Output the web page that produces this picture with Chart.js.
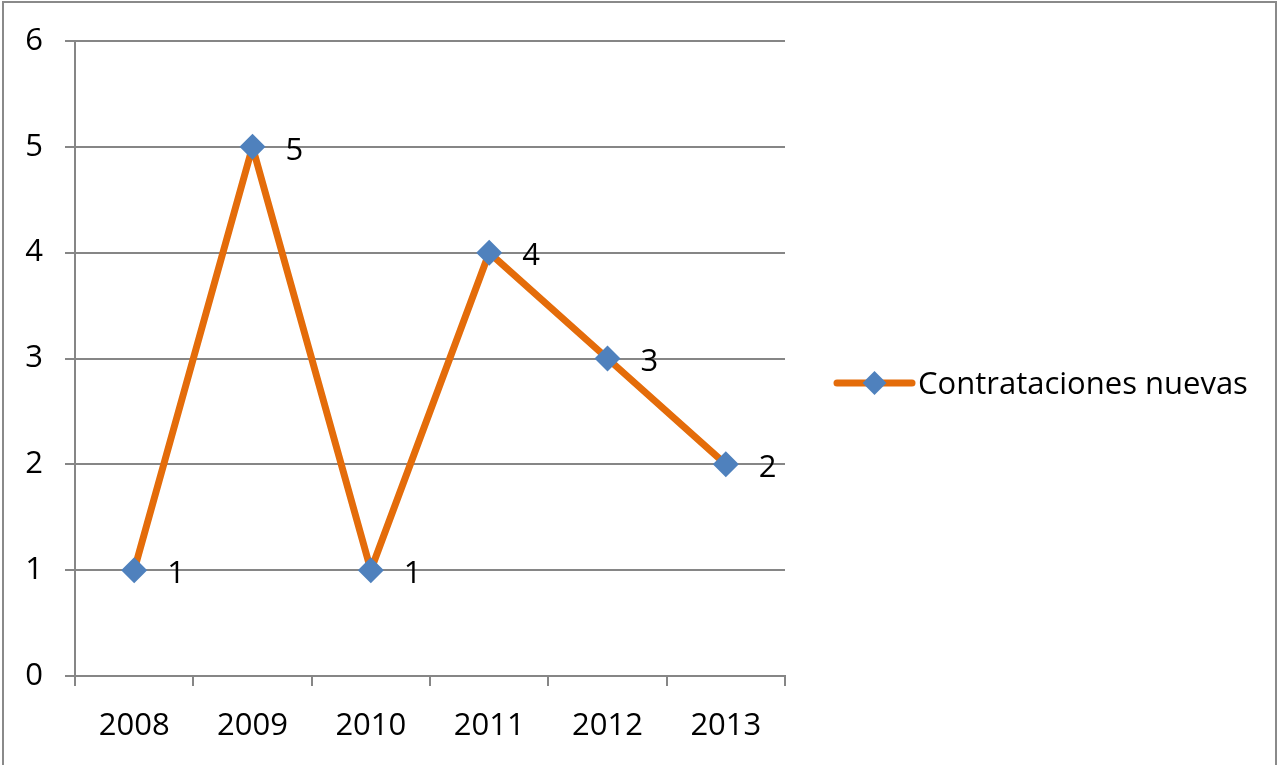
<!DOCTYPE html>
<html>
<head>
<meta charset="utf-8">
<script src="https://cdn.jsdelivr.net/npm/chart.js@4.4.0/dist/chart.umd.min.js"></script>
<style>
  html, body { margin: 0; padding: 0; background: #fff; overflow: hidden; }
  #wrap { position: relative; width: 1282px; height: 765px; }
  #frame { position: absolute; left: 2px; top: 1px; width: 1275px; height: 800px; border: 2px solid #8a8a8a; box-sizing: border-box; }
  canvas { position: absolute; left: 0; top: 0; }
</style>
</head>
<body>
<div id="wrap">
  <div id="frame"></div>
  <canvas id="chart" width="1282" height="765"></canvas>
</div>
<script>
const years = ['2008', '2009', '2010', '2011', '2012', '2013'];
const hires = [1, 5, 1, 4, 3, 2];
const seriesName = 'Contrataciones nuevas';
const yTicks = [0, 1, 2, 3, 4, 5, 6];

const lineColor = '#e46c0a';
const markerColor = '#4f81bd';
const gridColor = '#868686';
const FONT = '"Open Sans", sans-serif';
const FONT_SIZE = 31;

// value labels to the right of each marker
const pointLabels = {
  id: 'pointLabels',
  afterDatasetsDraw(chart){
    const { ctx } = chart;
    const meta = chart.getDatasetMeta(0);
    ctx.save();
    ctx.font = `${FONT_SIZE}px ${FONT}`;
    ctx.fillStyle = '#000';
    ctx.textAlign = 'left';
    ctx.textBaseline = 'middle';
    meta.data.forEach((pt, i) => {
      ctx.fillText(String(hires[i]), pt.x + 33, pt.y + 4);
    });
    ctx.restore();
  }
};

// legend entry on the right: line + diamond + series name
const sideLegend = {
  id: 'sideLegend',
  afterDraw(chart){
    const { ctx, chartArea } = chart;
    const x0 = chartArea.right + 52, x1 = x0 + 75, y = 383;
    const cx = (x0 + x1) / 2, r = 12;
    ctx.save();
    ctx.strokeStyle = lineColor;
    ctx.lineWidth = 7;
    ctx.lineCap = 'round';
    ctx.beginPath(); ctx.moveTo(x0, y); ctx.lineTo(x1, y); ctx.stroke();
    ctx.fillStyle = markerColor;
    ctx.beginPath();
    ctx.moveTo(cx - r, y); ctx.lineTo(cx, y - r); ctx.lineTo(cx + r, y); ctx.lineTo(cx, y + r);
    ctx.closePath(); ctx.fill();
    ctx.font = `${FONT_SIZE}px ${FONT}`;
    ctx.fillStyle = '#000';
    ctx.textAlign = 'left';
    ctx.textBaseline = 'middle';
    ctx.fillText(seriesName, x1 + 6, y + 2);
    ctx.restore();
  }
};

new Chart(document.getElementById('chart'), {
  type: 'line',
  data: {
    labels: years,
    datasets: [{
      label: seriesName,
      data: hires,
      borderColor: lineColor,
      borderWidth: 7,
      borderJoinStyle: 'round',
      borderCapStyle: 'round',
      tension: 0,
      pointStyle: 'rectRot',
      pointRadius: 13,
      pointHoverRadius: 13,
      pointBorderWidth: 0,
      pointBackgroundColor: markerColor,
      pointBorderColor: markerColor
    }]
  },
  options: {
    responsive: false,
    animation: false,
    events: [],
    layout: { padding: { left: 0, top: 41, right: 497, bottom: 0 } },
    plugins: { legend: { display: false }, tooltip: { enabled: false } },
    scales: {
      x: {
        offset: true,
        grid: { drawOnChartArea: false, drawTicks: true, tickLength: 10, color: gridColor, lineWidth: 2, offset: true },
        border: { display: true, color: gridColor, width: 2 },
        ticks: { color: '#000', font: { family: FONT, size: FONT_SIZE }, padding: 22, maxRotation: 0 },
        afterFit(scale){ scale.height = 89; }
      },
      y: {
        min: 0, max: 6,
        afterBuildTicks(scale){ scale.ticks = yTicks.map(v => ({ value: v })); },
        grid: { color: gridColor, lineWidth: 2, tickLength: 10 },
        border: { display: true, color: gridColor, width: 2 },
        ticks: { color: '#000', font: { family: FONT, size: FONT_SIZE }, padding: 22 },
        afterFit(scale){ scale.width = 75; }
      }
    }
  },
  plugins: [pointLabels, sideLegend]
});
</script>
</body>
</html>
